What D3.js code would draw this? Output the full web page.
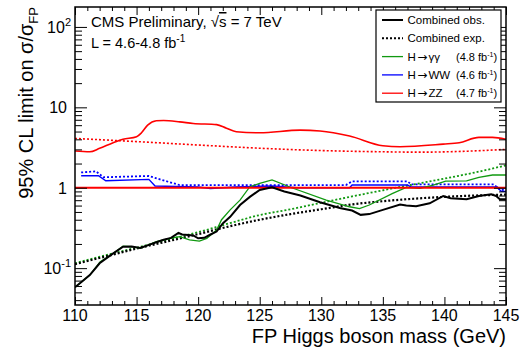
<!DOCTYPE html>
<html>
<head>
<meta charset="utf-8">
<script src="https://cdn.jsdelivr.net/npm/d3@7"></script>
<style>
  body { margin: 0; background: #fff; }
  text { font-family: "Liberation Sans", Arial, sans-serif; fill: #000; }
</style>
</head>
<body>
<svg id="chart" width="521" height="348"></svg>
<script>
const width = 521, height = 348;
const frameLeft = 75, frameRight = 506, frameTop = 7, frameBottom = 305;

// --- data ---
const obsMass = [110, 110.4, 111.2, 112.0, 112.9, 113.9, 114.6, 115.3, 116.0, 116.6, 117.2, 117.8, 118.4, 118.7, 119.2, 119.6, 120.0, 120.5, 121.0, 121.5, 122.0, 122.6, 123.4, 124.2, 125.0, 126.0, 127.0, 128.3, 129.9, 131.5, 132.5, 133.2, 133.9, 135.0, 136.4, 136.9, 137.7, 138.8, 139.9, 140.5, 141.8, 142.8, 143.8, 144.2, 144.5, 145.0];
const obsComb = [0.058, 0.065, 0.082, 0.115, 0.145, 0.185, 0.186, 0.178, 0.195, 0.21, 0.225, 0.238, 0.275, 0.262, 0.258, 0.255, 0.235, 0.238, 0.262, 0.285, 0.36, 0.435, 0.61, 0.77, 0.94, 1.01, 0.9, 0.8, 0.66, 0.56, 0.52, 0.46, 0.47, 0.53, 0.62, 0.6, 0.59, 0.64, 0.79, 0.74, 0.72, 0.79, 0.83, 0.79, 0.72, 0.72];

const expMass = [110, 112.5, 115, 117.5, 120, 122.5, 125, 127.5, 130, 132.5, 135, 137.5, 140, 142.5, 145];
const expComb = [0.112, 0.14, 0.175, 0.215, 0.265, 0.33, 0.40, 0.47, 0.54, 0.62, 0.68, 0.73, 0.77, 0.80, 0.82];
const expGG = [0.115, 0.145, 0.18, 0.225, 0.28, 0.36, 0.457, 0.54, 0.65, 0.78, 0.93, 1.1, 1.3, 1.55, 1.9];

const ggMass = [110, 110.4, 111.2, 112.05, 112.9, 113.9, 114.6, 115.3, 116.0, 116.6, 117.7, 118.5, 119.3, 120.1, 120.7, 121.5, 121.9, 122.6, 123.4, 124.2, 125.0, 126.0, 127.6, 130.4, 132.3, 133.1, 133.9, 135.8, 136.9, 138.0, 139.1, 140.1, 141.8, 142.8, 143.9, 145.0];
const ggObs = [0.058, 0.065, 0.082, 0.12, 0.145, 0.188, 0.185, 0.176, 0.195, 0.213, 0.235, 0.246, 0.224, 0.217, 0.235, 0.298, 0.40, 0.53, 0.70, 1.03, 1.13, 1.25, 1.0, 0.70, 0.58, 0.55, 0.61, 0.85, 1.01, 0.98, 1.08, 1.21, 1.22, 1.35, 1.44, 1.44];

const wwMass = [110.5, 111.9, 112.5, 116.0, 116.5, 120.0, 121.0, 123.0, 126.0, 128.0, 132.3, 132.5, 137.0, 137.3, 144.3, 144.6, 145.0];
const wwObs = [1.41, 1.41, 1.22, 1.27, 1.05, 1.02, 0.98, 1.02, 1.05, 1.0, 1.0, 1.08, 1.08, 1.02, 1.02, 0.9, 0.9];
const wwExpMass = [110.5, 111.7, 112.3, 116.0, 116.9, 118.5, 132.0, 132.5, 137.0, 137.3, 144.0, 144.5, 145.0];
const wwExp = [1.55, 1.6, 1.35, 1.40, 1.27, 1.08, 1.08, 1.2, 1.2, 1.1, 1.1, 0.95, 0.93];

const zzMass = [110, 111.2, 112.0, 113.1, 113.9, 115.0, 115.4, 115.9, 116.6, 117.2, 118.5, 119.6, 121.5, 122.3, 123.1, 125.0, 128.3, 129.9, 132.3, 135.0, 136.4, 139.9, 141.2, 142.8, 143.9, 145.0];
const zzObs = [2.86, 2.80, 3.09, 3.63, 4.0, 4.31, 4.83, 6.0, 6.8, 6.85, 6.6, 6.3, 6.1, 5.5, 4.97, 4.83, 5.2, 5.08, 4.4, 3.33, 3.24, 3.49, 3.63, 4.23, 4.23, 4.0];
const zzExpMass = [110, 115, 120, 125, 130, 135, 138, 141, 145];
const zzExp = [4.1, 3.75, 3.4, 3.1, 2.9, 2.8, 2.77, 2.82, 3.0];

const yMajor = [0.1, 1, 10, 100];
const xMajor = [110, 115, 120, 125, 130, 135, 140, 145];

const green = "#119911", blue = "#0000ff", red = "#ff0000";

const svg = d3.select("#chart");

const x = d3.scaleLinear().domain([110, 145]).range([frameLeft, frameRight]);
const y = d3.scaleLog().domain([0.0348, 177]).range([frameBottom, frameTop]);

const xMinor = d3.range(110, 146, 1).filter(v => v % 5 !== 0);
const yMinor = [];
[0.01, 0.1, 1, 10, 100].forEach(d => {
    for (let k = 2; k <= 9; k++) {
        const v = d * k;
        if (v >= y.domain()[0] && v <= y.domain()[1]) yMinor.push(v);
    }
});

// clip for the curves
svg.append("clipPath").attr("id", "plot")
    .append("rect").attr("x", frameLeft).attr("y", frameTop)
    .attr("width", frameRight - frameLeft).attr("height", frameBottom - frameTop);

const plot = svg.append("g").attr("clip-path", "url(#plot)");

function drawLine(mass, vals, color, w, dash, curve) {
    const line = d3.line()
        .x((d, i) => x(mass[i]))
        .y(d => y(d))
        .curve(curve || d3.curveLinear);
    plot.append("path")
        .attr("fill", "none")
        .attr("stroke", color)
        .attr("stroke-width", w)
        .attr("stroke-dasharray", dash || null)
        .attr("d", line(vals));
}

// expected (dotted)
drawLine(zzExpMass, zzExp, red, 1.6, "2,2", d3.curveMonotoneX);
drawLine(wwExpMass, wwExp, blue, 1.8, "2,2");
drawLine(expMass, expGG, green, 1.8, "2,2", d3.curveMonotoneX);
drawLine(expMass, expComb, "#000", 2.2, "2,2", d3.curveMonotoneX);

// observed
drawLine(zzMass, zzObs, red, 1.6, null, d3.curveMonotoneX);
drawLine(wwMass, wwObs, blue, 1.4);
drawLine(ggMass, ggObs, green, 1.3);

// sigma/sigma_FP = 1
plot.append("line")
    .attr("x1", frameLeft).attr("x2", frameRight)
    .attr("y1", y(1)).attr("y2", y(1))
    .attr("stroke", red).attr("stroke-width", 2.2);

drawLine(obsMass, obsComb, "#000", 2);

// axes with ticks on all four sides
function styleAxis(g) {
    g.select(".domain").remove();
    g.selectAll(".tick line").attr("stroke", "#000").attr("stroke-width", 1);
}
svg.append("g").attr("transform", `translate(0,${frameBottom})`)
    .call(d3.axisBottom(x).tickValues(xMajor).tickSize(-8).tickFormat(""))
    .call(styleAxis);
svg.append("g").attr("transform", `translate(0,${frameBottom})`)
    .call(d3.axisBottom(x).tickValues(xMinor).tickSize(-4).tickFormat(""))
    .call(styleAxis);
svg.append("g").attr("transform", `translate(0,${frameTop})`)
    .call(d3.axisTop(x).tickValues(xMajor).tickSize(-8).tickFormat(""))
    .call(styleAxis);
svg.append("g").attr("transform", `translate(0,${frameTop})`)
    .call(d3.axisTop(x).tickValues(xMinor).tickSize(-4).tickFormat(""))
    .call(styleAxis);
svg.append("g").attr("transform", `translate(${frameLeft},0)`)
    .call(d3.axisLeft(y).tickValues(yMajor).tickSize(-12).tickFormat(""))
    .call(styleAxis);
svg.append("g").attr("transform", `translate(${frameLeft},0)`)
    .call(d3.axisLeft(y).tickValues(yMinor).tickSize(-7).tickFormat(""))
    .call(styleAxis);
svg.append("g").attr("transform", `translate(${frameRight},0)`)
    .call(d3.axisRight(y).tickValues(yMajor).tickSize(-12).tickFormat(""))
    .call(styleAxis);
svg.append("g").attr("transform", `translate(${frameRight},0)`)
    .call(d3.axisRight(y).tickValues(yMinor).tickSize(-7).tickFormat(""))
    .call(styleAxis);

// frame
svg.append("rect")
    .attr("x", frameLeft).attr("y", frameTop)
    .attr("width", frameRight - frameLeft).attr("height", frameBottom - frameTop)
    .attr("fill", "none").attr("stroke", "#000").attr("stroke-width", 1.5);

// x tick labels
svg.append("g").selectAll("text").data(xMajor).join("text")
    .attr("x", d => x(d)).attr("y", 321)
    .attr("text-anchor", "middle")
    .style("font-size", "16px")
    .text(d => d);

// y tick labels with exponents
const yLabels = [
    { v: 100, base: "10", exp: "2" },
    { v: 10, base: "10", exp: "" },
    { v: 1, base: "1", exp: "" },
    { v: 0.1, base: "10", exp: "-1" }
];
yLabels.forEach(l => {
    const t = svg.append("text")
        .attr("x", l.exp ? 71 : 67)
        .attr("y", y(l.v) + 6)
        .attr("text-anchor", "end")
        .style("font-size", "16px");
    t.append("tspan").text(l.base);
    if (l.exp) {
        t.append("tspan").attr("dy", -7).style("font-size", "11px").text(l.exp);
    }
});

// axis titles
svg.append("text")
    .attr("x", frameRight).attr("y", 342.5)
    .attr("text-anchor", "end")
    .style("font-size", "20px")
    .text("FP Higgs boson mass (GeV)");

const yt = svg.append("text")
    .attr("transform", `translate(33,${frameTop}) rotate(-90)`)
    .attr("text-anchor", "end")
    .style("font-size", "20px");
yt.append("tspan").text("95% CL limit on σ/σ");
yt.append("tspan").attr("dy", 5).style("font-size", "13px").text("FP");

// header
const cms = svg.append("text").attr("x", 91).attr("y", 27).style("font-size", "15px");
cms.append("tspan").text("CMS Preliminary, √");
cms.append("tspan").attr("text-decoration", "overline").text("s");
cms.append("tspan").text(" = 7 TeV");

const lumi = svg.append("text").attr("x", 91).attr("y", 48).style("font-size", "14.5px");
lumi.append("tspan").text("L = 4.6-4.8 fb");
lumi.append("tspan").attr("dy", -6).style("font-size", "10px").text("-1");

// legend
const legX = 376, legY = 10, legW = 125, legH = 92;
const legend = svg.append("g");
legend.append("rect")
    .attr("x", legX).attr("y", legY).attr("width", legW).attr("height", legH)
    .attr("fill", "#fff").attr("stroke", "#000").attr("stroke-width", 1.2);

const legItems = [
    { name: "Combined obs.", decay: "", lumi: "", color: "#000", dash: null, w: 2 },
    { name: "Combined exp.", decay: "", lumi: "", color: "#000", dash: "2,2", w: 2 },
    { name: "H", decay: "γγ", lumi: "4.8", color: green, dash: null, w: 1.3 },
    { name: "H", decay: "WW", lumi: "4.6", color: blue, dash: null, w: 1.3 },
    { name: "H", decay: "ZZ", lumi: "4.7", color: red, dash: null, w: 1.3 }
];
legItems.forEach((d, i) => {
    const cy = 20 + i * 18.3;
    legend.append("line")
        .attr("x1", 382).attr("x2", 403)
        .attr("y1", cy).attr("y2", cy)
        .attr("stroke", d.color).attr("stroke-width", d.w)
        .attr("stroke-dasharray", d.dash);
    const t = legend.append("text")
        .attr("x", 407.5).attr("y", cy).attr("dy", "0.36em")
        .style("font-size", "11.5px");
    t.append("tspan").text(d.name);
    if (d.decay) {
        t.append("tspan").attr("dx", 1.5)
            .style("font-family", "'DejaVu Sans', sans-serif")
            .style("font-size", "12px").text("→");
        t.append("tspan").attr("dx", 1).text(d.decay);
    }
    if (d.lumi) {
        const l = legend.append("text")
            .attr("x", 456).attr("y", cy).attr("dy", "0.36em")
            .style("font-size", "11px");
        l.append("tspan").text(`(${d.lumi} fb`);
        l.append("tspan").attr("dy", -4).style("font-size", "7px").text("-1");
        l.append("tspan").attr("dy", 4).text(")");
    }
});
</script>
</body>
</html>
